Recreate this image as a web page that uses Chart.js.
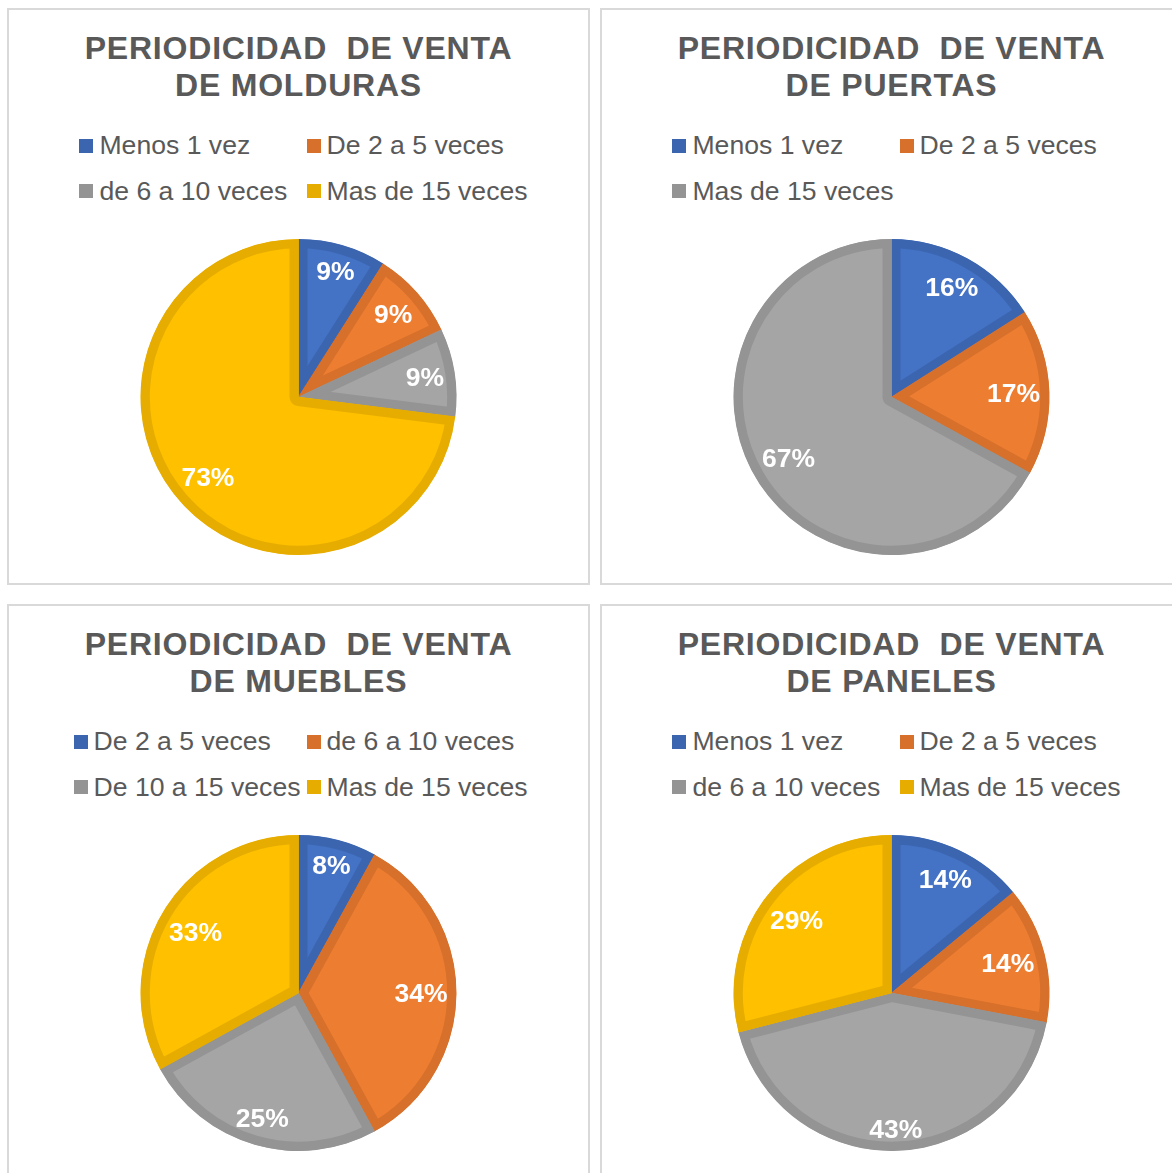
<!DOCTYPE html>
<html>
<head>
<meta charset="utf-8">
<script src="https://cdn.jsdelivr.net/npm/chart.js@4.4.1/dist/chart.umd.min.js"></script>
<style>
  html, body { margin: 0; padding: 0; background: #fff; }
  body { width: 1172px; height: 1173px; position: relative; overflow: hidden;
         font-family: "Liberation Sans", Arial, sans-serif; }
  .panel { position: absolute; width: 583px; height: 577px; box-sizing: border-box;
           border: 2px solid #d9d9d9; background: #fff; }
  .title { position: absolute; left: 0; right: 0; top: 20px; text-align: center;
           font-weight: bold; font-size: 32px; line-height: 37px; letter-spacing: 0.8px;
           color: #595959; white-space: pre; }
  .legend { position: absolute; left: 0; right: 0; top: 113px; text-align: center; }
  .legend-grid { display: inline-grid; grid-template-columns: 1fr 1fr; column-gap: 6px;
                 text-align: left; margin-left: 10px; }
  .item { display: flex; align-items: center; height: 45.5px; font-size: 26.6px;
          color: #595959; white-space: nowrap; }
  .box { width: 14px; height: 14px; margin-right: 6px; flex: none; }
  .pie { position: absolute; left: 0; top: 229px; width: 579px; height: 316px; }
</style>
</head>
<body>
<script>
// ---------- Data ----------
const titleMolduras = ['PERIODICIDAD  DE VENTA', 'DE MOLDURAS'];
const catMolduras = ['Menos 1 vez', 'De 2 a 5 veces', 'de 6 a 10 veces', 'Mas de 15 veces'];
const valMolduras = [9, 9, 9, 73];

const titlePuertas = ['PERIODICIDAD  DE VENTA', 'DE PUERTAS'];
const catPuertas = ['Menos 1 vez', 'De 2 a 5 veces', 'Mas de 15 veces'];
const valPuertas = [16, 17, 67];

const titleMuebles = ['PERIODICIDAD  DE VENTA', 'DE MUEBLES'];
const catMuebles = ['De 2 a 5 veces', 'de 6 a 10 veces', 'De 10 a 15 veces', 'Mas de 15 veces'];
const valMuebles = [8, 34, 25, 33];

const titlePaneles = ['PERIODICIDAD  DE VENTA', 'DE PANELES'];
const catPaneles = ['Menos 1 vez', 'De 2 a 5 veces', 'de 6 a 10 veces', 'Mas de 15 veces'];
const valPaneles = [14, 14, 43, 29];

// Excel-ish palette: fill + darker inner edge
const FILL = ['#4472C4', '#ED7D31', '#A5A5A5', '#FFC000'];
const EDGE = ['#3C65B0', '#D6702B', '#949494', '#E6AD00'];

// ---------- Percentage labels (best-fit-ish, inside the slice) ----------
const pctLabels = {
  id: 'pctLabels',
  afterDatasetsDraw(chart) {
    const ctx = chart.ctx;
    const meta = chart.getDatasetMeta(0);
    const values = chart.data.datasets[0].data;
    ctx.save();
    ctx.font = 'bold 26.5px "Liberation Sans", Arial, sans-serif';
    ctx.fillStyle = '#ffffff';
    ctx.textAlign = 'center';
    ctx.textBaseline = 'middle';
    meta.data.forEach((arc, i) => {
      const p = arc.getProps(['x', 'y', 'startAngle', 'endAngle', 'outerRadius'], true);
      const mid = (p.startAngle + p.endAngle) / 2;
      const text = values[i] + '%';
      const hw = ctx.measureText(text).width / 2 + 1;
      const hh = 13;
      // keep the label box inside the rim
      const ext = hw * Math.abs(Math.cos(mid)) + hh * Math.abs(Math.sin(mid));
      const d = p.outerRadius - 8 - ext;
      ctx.fillText(text, p.x + Math.cos(mid) * d, p.y + Math.sin(mid) * d + 2);
    });
    ctx.restore();
  }
};

// ---------- Build panels ----------
function makePanel(left, top, titleLines, cats, vals) {
  const panel = document.createElement('div');
  panel.className = 'panel';
  panel.style.left = left + 'px';
  panel.style.top = top + 'px';

  const title = document.createElement('div');
  title.className = 'title';
  title.textContent = titleLines.join('\n');
  panel.appendChild(title);

  const legend = document.createElement('div');
  legend.className = 'legend';
  const grid = document.createElement('div');
  grid.className = 'legend-grid';
  cats.forEach((c, i) => {
    const item = document.createElement('div');
    item.className = 'item';
    const box = document.createElement('span');
    box.className = 'box';
    box.style.background = EDGE[i];
    item.appendChild(box);
    item.appendChild(document.createTextNode(c));
    grid.appendChild(item);
  });
  legend.appendChild(grid);
  panel.appendChild(legend);

  const wrap = document.createElement('div');
  wrap.className = 'pie';
  const canvas = document.createElement('canvas');
  wrap.appendChild(canvas);
  panel.appendChild(wrap);
  document.body.appendChild(panel);

  new Chart(canvas, {
    type: 'pie',
    data: {
      labels: cats,
      datasets: [{
        data: vals,
        backgroundColor: FILL.slice(0, vals.length),
        borderColor: EDGE.slice(0, vals.length),
        borderWidth: 9,
        borderAlign: 'inner',
        hoverOffset: 0
      }]
    },
    options: {
      responsive: true,
      maintainAspectRatio: false,
      animation: false,
      events: [],
      layout: { padding: 0 },
      plugins: { legend: { display: false }, tooltip: { enabled: false } }
    },
    plugins: [pctLabels]
  });
}

makePanel(7, 8, titleMolduras, catMolduras, valMolduras);
makePanel(600, 8, titlePuertas, catPuertas, valPuertas);
makePanel(7, 604, titleMuebles, catMuebles, valMuebles);
makePanel(600, 604, titlePaneles, catPaneles, valPaneles);
</script>
</body>
</html>
